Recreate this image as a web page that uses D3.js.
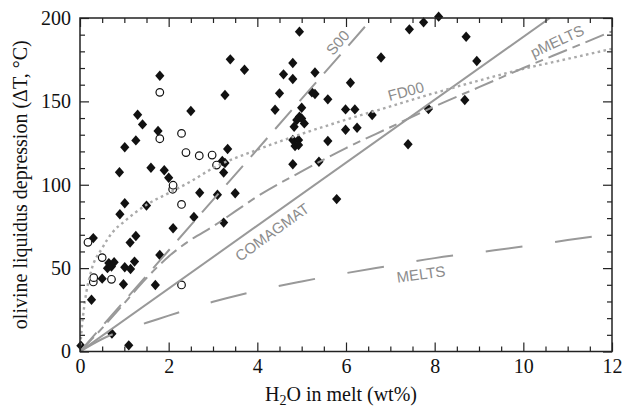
<!DOCTYPE html>
<html>
<head>
<meta charset="utf-8">
<script src="https://cdn.jsdelivr.net/npm/d3@7"></script>
<style>
  html, body { margin: 0; padding: 0; background: #fff; }
  svg { display: block; }
</style>
</head>
<body>
<svg id="chart" width="622" height="408"></svg>
<script>
// Measured samples: H2O in melt (wt%) vs olivine liquidus depression (°C)
const diamondX = [0.02, 0.26, 0.30, 0.50, 0.62, 0.65, 0.71, 0.77, 0.72, 0.89, 0.90, 0.98, 1.01, 1.01, 1.01, 1.10, 1.13, 1.14, 1.23, 1.26,
  1.26, 1.30, 1.41, 1.50, 1.60, 1.70, 1.76, 1.80, 1.80, 1.90, 2.00, 2.10, 2.50, 2.57, 2.70, 3.10, 3.21, 3.24, 3.24, 3.27,
  3.27, 3.33, 3.39, 3.50, 3.71, 4.40, 4.50, 4.59, 4.80, 4.80, 4.95, 4.95, 4.89, 5.00, 5.06, 4.83, 5.00, 4.80, 4.93, 4.85,
  4.93, 4.80, 5.23, 5.30, 5.30, 5.39, 5.59, 5.59, 5.79, 5.99, 6.20, 5.99, 6.25, 6.10, 6.59, 6.79, 7.40, 7.43, 7.75, 7.86,
  8.09, 8.68, 8.71, 8.95];
const diamondY = [3.5, 31, 68, 43.7, 50, 53, 51, 53.5, 10.7, 107.5, 82.3, 40.3, 50.5, 88.9, 122.5, 3.7, 65.3, 49.5, 53.9, 69.3,
  126.6, 142, 136.2, 87.5, 110.2, 39.9, 132.2, 57.9, 165.4, 108.7, 104.2, 73.9, 144.2, 80.7, 95.2, 94, 114.2, 107.3, 77.3, 153.8,
  113, 121.4, 175.2, 94.9, 169, 145, 154.8, 166.2, 173, 163.4, 191.8, 140.8, 138.8, 139.8, 136.8, 134.8, 146.2, 126.8, 126.8, 123.2,
  123.8, 112.3, 155.4, 154.4, 167.3, 113.8, 151.2, 126.2, 91.4, 145.2, 145.2, 133, 134.2, 161.2, 141.8, 176.3, 124.3, 193.2, 197.4, 145.4,
  200.8, 150.8, 188.8, 174.2];

const circleX = [0.18, 0.30, 0.31, 0.50, 0.71, 1.80, 1.80, 2.09, 2.10, 2.29, 2.29, 2.29, 2.39, 2.69, 2.98, 3.08];
const circleY = [65.5, 41.7, 44.3, 56.3, 43.3, 155.4, 127.6, 97.3, 99.7, 130.8, 88.2, 39.9, 119.3, 117.4, 117.8, 111.8];

// Model curves
const comagmatX = [0, 10.6];
const comagmatY = [0, 200];

const s00X = [0, 6.6];
const s00Y = [0, 200];

const pmeltsX = [0, 0.5, 1, 1.5, 2, 2.5, 3, 3.5, 4, 5, 6, 7, 8, 9, 10, 11, 12];
const pmeltsY = [0, 14, 29, 44, 57, 67, 75, 84, 93, 108, 122, 134.5, 147, 158.5, 170, 181, 192];

const fd00X = [0, 0.03, 0.1, 0.25, 0.5, 0.75, 1, 1.5, 2, 2.5, 3, 4, 5, 6, 7, 8, 9, 10, 11, 12];
const fd00Y = [0, 11, 28, 48, 62, 72, 78, 88, 95, 102, 110, 121, 130.5, 139, 147, 155, 162.5, 169.5, 175.5, 181.5];

const meltsX = [0, 0.5, 1, 1.5, 2, 3, 4, 5, 6, 7, 8, 9, 10, 11, 12];
const meltsY = [0, 7.5, 13, 17.2, 21.5, 29.8, 36.5, 42, 47, 51.5, 56, 59.5, 63, 66.8, 70.5];

// Axis ticks
const xMajorTicks = [0, 2, 4, 6, 8, 10, 12];
const xMinorTicks = d3.range(0, 12.01, 0.5).filter(v => v % 2 !== 0);
const yMajorTicks = [0, 50, 100, 150, 200];
const yMinorTicks = d3.range(0, 200.1, 10).filter(v => v % 50 !== 0);

// Curve labels, placed in data units
const curveLabels = ["S00", "FD00", "pMELTS", "COMAGMAT", "MELTS"];
const labelX = [5.81, 7.35, 10.76, 4.33, 7.69];
const labelY = [185.3, 156.2, 186.2, 71.7, 46.5];
const labelAngle = [-49, -15, -25, -36, -8];

const W = 622, H = 408;
const m = { left: 80, right: 10, top: 18, bottom: 56.5 };
const iw = W - m.left - m.right, ih = H - m.top - m.bottom;

const svg = d3.select("#chart");
const x = d3.scaleLinear().domain([0, 12]).range([m.left, m.left + iw]);
const y = d3.scaleLinear().domain([0, 200]).range([m.top + ih, m.top]);

const serif = "'Liberation Serif', 'Times New Roman', Times, serif";
const sans = "'Liberation Sans', Arial, Helvetica, sans-serif";
const grey = "#999";

svg.append("defs").append("clipPath").attr("id", "plot")
  .append("rect").attr("x", m.left).attr("y", m.top).attr("width", iw).attr("height", ih);

// Markers
const diamond = "M0,-5.2L4.6,0L0,5.2L-4.6,0Z";
const pts = svg.append("g");
pts.selectAll("path.d").data(d3.range(diamondX.length)).join("path")
  .attr("class", "d")
  .attr("d", diamond)
  .attr("transform", i => `translate(${x(diamondX[i])},${y(diamondY[i])})`)
  .attr("fill", "#111");
pts.selectAll("circle").data(d3.range(circleX.length)).join("circle")
  .attr("cx", i => x(circleX[i])).attr("cy", i => y(circleY[i]))
  .attr("r", 3.8).attr("fill", "#fff").attr("stroke", "#111").attr("stroke-width", 1.2);

// Model lines
const lineGen = d3.line().x(d => x(d[0])).y(d => y(d[1])).curve(d3.curveMonotoneX);
const curves = [
  { xs: meltsX, ys: meltsY, dash: "37,33", color: grey, w: 2 },
  { xs: comagmatX, ys: comagmatY, dash: null, color: grey, w: 2 },
  { xs: fd00X, ys: fd00Y, dash: "2.6,3.4", color: "#aaa", w: 2.4 },
  { xs: pmeltsX, ys: pmeltsY, dash: "20,6,8,6", color: grey, w: 2 },
  { xs: s00X, ys: s00Y, dash: "25,12", color: grey, w: 2 }
];
const lines = svg.append("g").attr("clip-path", "url(#plot)");
curves.forEach(c => {
  lines.append("path")
    .attr("d", lineGen(c.xs.map((v, i) => [v, c.ys[i]])))
    .attr("fill", "none")
    .attr("stroke", c.color)
    .attr("stroke-width", c.w)
    .attr("stroke-dasharray", c.dash);
});

// Curve labels
svg.append("g").selectAll("text").data(curveLabels).join("text")
  .attr("transform", (d, i) => `translate(${x(labelX[i])},${y(labelY[i])}) rotate(${labelAngle[i]})`)
  .attr("text-anchor", "middle")
  .attr("dominant-baseline", "central")
  .attr("font-family", sans)
  .attr("font-size", 15)
  .attr("fill", "#8c8c8c")
  .text(d => d);

// Axes: ticks point inward on all four sides
function styleAxis(g) {
  g.select(".domain").remove();
  g.selectAll(".tick line").attr("stroke", "#222").attr("stroke-width", 1.2);
  g.selectAll(".tick text").attr("font-family", serif).attr("font-size", 20).attr("fill", "#111");
}
const yBottom = y(0), yTop = y(200), xLeft = x(0), xRight = x(12);

svg.append("g").attr("transform", `translate(0,${yBottom})`)
  .call(d3.axisBottom(x).tickValues(xMajorTicks).tickSize(-9).tickPadding(7).tickFormat(d3.format("d")))
  .call(styleAxis);
svg.append("g").attr("transform", `translate(0,${yBottom})`)
  .call(d3.axisBottom(x).tickValues(xMinorTicks).tickSize(-5).tickFormat(""))
  .call(styleAxis);
svg.append("g").attr("transform", `translate(0,${yTop})`)
  .call(d3.axisTop(x).tickValues(xMajorTicks).tickSize(-9).tickFormat(""))
  .call(styleAxis);
svg.append("g").attr("transform", `translate(0,${yTop})`)
  .call(d3.axisTop(x).tickValues(xMinorTicks).tickSize(-5).tickFormat(""))
  .call(styleAxis);
svg.append("g").attr("transform", `translate(${xLeft},0)`)
  .call(d3.axisLeft(y).tickValues(yMajorTicks).tickSize(-9).tickPadding(9).tickFormat(d3.format("d")))
  .call(styleAxis);
svg.append("g").attr("transform", `translate(${xLeft},0)`)
  .call(d3.axisLeft(y).tickValues(yMinorTicks).tickSize(-5).tickFormat(""))
  .call(styleAxis);
svg.append("g").attr("transform", `translate(${xRight},0)`)
  .call(d3.axisRight(y).tickValues(yMajorTicks).tickSize(-9).tickFormat(""))
  .call(styleAxis);
svg.append("g").attr("transform", `translate(${xRight},0)`)
  .call(d3.axisRight(y).tickValues(yMinorTicks).tickSize(-5).tickFormat(""))
  .call(styleAxis);

// Frame
svg.append("rect")
  .attr("x", xLeft).attr("y", yTop).attr("width", xRight - xLeft).attr("height", yBottom - yTop)
  .attr("fill", "none").attr("stroke", "#222").attr("stroke-width", 1.5);

// Axis titles
const xt = svg.append("text")
  .attr("x", (xLeft + xRight) / 2 - 5).attr("y", 401)
  .attr("text-anchor", "middle")
  .attr("font-family", serif).attr("font-size", 20).attr("fill", "#111");
xt.append("tspan").text("H");
xt.append("tspan").attr("font-size", 14).attr("dy", 4).text("2");
xt.append("tspan").attr("dy", -4).text("O in melt (wt%)");

svg.append("text")
  .attr("transform", `translate(26.5,${(yTop + yBottom) / 2}) rotate(-90)`)
  .attr("text-anchor", "middle")
  .attr("font-family", serif).attr("font-size", 20).attr("fill", "#111")
  .text("olivine liquidus depression (ΔT, °C)");
</script>
</body>
</html>
